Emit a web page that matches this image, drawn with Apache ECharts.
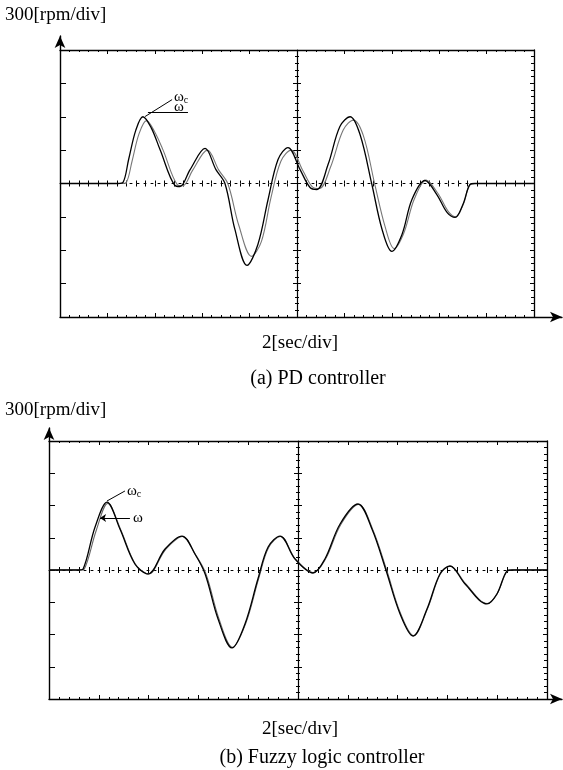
<!DOCTYPE html>
<html>
<head>
<meta charset="utf-8">
<script src="https://cdn.jsdelivr.net/npm/echarts@6/dist/echarts.min.js"></script>
<style>
html,body{margin:0;padding:0;background:#fff;}
#chart{width:563px;height:770px;}
</style>
</head>
<body>
<div id="chart"></div>
<script>
// (a) PD controller : 指令 ωc 与 实际速度 ω  (time in s, speed in rpm)
var pdRefTime = [0, 2.45, 2.66, 2.9, 3.2, 3.5, 3.85, 4.22, 4.85, 5.06, 5.49, 6.12, 6.58, 6.96, 7.38, 7.89, 8.35, 8.78, 9.2, 9.62, 10.13, 10.55, 10.84, 11.31, 11.81, 12.24, 12.66, 13.16, 13.59, 14.0, 14.43, 14.85, 15.4, 15.9, 16.33, 16.67, 17.0, 17.3, 17.5, 20]
var pdRefSpeed = [0, 0, 10, 220, 480, 600, 500, 305, -18, -27, 125, 315, 125, 0, -413, -736, -548, -144, 215, 323, 125, -36, -54, 170, 512, 600, 440, -9, -413, -610, -458, -144, 27, -99, -260, -305, -189, -9, 0, 0]
var pdOutTime = [0, 2.6, 2.8, 3.04, 3.34, 3.65, 3.98, 4.35, 4.95, 5.18, 5.6, 6.22, 6.7, 7.08, 7.55, 8.08, 8.5, 8.9, 9.32, 9.75, 10.25, 10.65, 10.95, 11.42, 11.95, 12.38, 12.8, 13.28, 13.72, 14.1, 14.5, 14.95, 15.45, 15.95, 16.38, 16.7, 17.02, 17.32, 17.52, 20]
var pdOutSpeed = [0, 0, 10, 200, 450, 565, 470, 300, -10, -20, 120, 300, 120, 0, -380, -655, -520, -130, 200, 300, 115, -30, -45, 150, 480, 570, 430, -5, -390, -585, -450, -140, 30, -90, -250, -300, -185, -5, 0, 0]

// (b) Fuzzy logic controller
var fzRefTime = [0, 1.2, 1.37, 1.85, 2.33, 2.85, 3.45, 3.98, 4.66, 5.34, 5.86, 6.27, 6.79, 7.35, 7.87, 8.39, 8.8, 9.28, 9.88, 10.6, 11.08, 11.69, 12.41, 12.97, 13.53, 14.1, 14.62, 15.18, 15.7, 16.1, 16.71, 17.59, 17.99, 18.39, 18.6, 20]
var fzRefSpeed = [0, 0, 10, 400, 632, 381, 56, -37, 195, 316, 149, -37, -456, -725, -502, -84, 214, 316, 102, -28, 102, 428, 614, 381, 0, -409, -614, -363, -37, 37, -130, -316, -223, -10, 0, 0]
var fzOutTime = [0, 1.25, 1.42, 1.9, 2.36, 2.88, 3.48, 4.0, 4.68, 5.36, 5.88, 6.3, 6.82, 7.37, 7.9, 8.42, 8.82, 9.3, 9.9, 10.62, 11.1, 11.72, 12.43, 13.0, 13.56, 14.12, 14.64, 15.2, 15.72, 16.12, 16.73, 17.6, 18.0, 18.4, 18.6, 20]
var fzOutSpeed = [0, 0, 10, 370, 620, 375, 50, -35, 190, 312, 145, -35, -450, -720, -498, -80, 210, 312, 100, -25, 100, 424, 610, 378, 0, -405, -610, -360, -35, 35, -128, -312, -220, -10, 0, 0]

// 刻度: 2 s/div, 300 rpm/div
var timeRange = [0, 20, 2]
var speedRange = [-1200, 1200, 300]

// 标注: 引线 [from, to] 与 文字位置
var pdRefNote = [[3.59, 602], [4.73, 754]]
var pdRefText = [4.81, 780]
var pdOutNote = [[3.71, 638], [5.4, 638]]
var pdOutText = [4.81, 690]
var fzRefNote = [[2.33, 642], [3.05, 735]]
var fzRefText = [3.13, 735]
var fzOutNote = [[3.25, 484], [2.05, 484]]
var fzOutText = [3.37, 484]

var FONT = 'Liberation Serif'
var chart = echarts.init(document.getElementById('chart'))

function zip(t, v) {
  return t.map(function (x, i) { return [x, v[i]] })
}

// 绘图区 和 带箭头的坐标轴区
var boxes = [
  { left: 60, top: 50, width: 474, height: 267 },
  { left: 49, top: 441, width: 498, height: 258 }
]
var arrowBoxes = [
  { left: 60, top: 36, width: 502, height: 281 },
  { left: 49, top: 428, width: 513, height: 271 }
]

var black = { color: '#000', width: 1 }
var xAxes = [], yAxes = []

function tickAxis(base, extra) {
  var ax = Object.assign({
    type: 'value',
    axisLabel: { show: false },
    splitLine: { show: false },
    axisLine: { show: false },
    axisTick: { show: true, inside: true, length: 4, lineStyle: black },
    minorTick: { show: true, splitNumber: 5, length: 2, lineStyle: black }
  }, base, extra)
  ax.axisLine = Object.assign({ onZero: false }, ax.axisLine)
  return ax
}

boxes.forEach(function (box, g) {
  var xb = { gridIndex: g, min: timeRange[0], max: timeRange[1], interval: timeRange[2] }
  var yb = { gridIndex: g, min: speedRange[0], max: speedRange[1], interval: speedRange[2] }
  // x: 底, 顶, 中心线(两侧刻度)
  xAxes.push(tickAxis(xb, { position: 'bottom' }))
  xAxes.push(tickAxis(xb, { position: 'top', axisLine: { show: true, lineStyle: { color: '#000', width: 1.3 } } }))
  xAxes.push(tickAxis(xb, {
    position: 'bottom', offset: -box.height / 2,
    axisLine: { show: true, lineStyle: { color: '#000', width: 1, type: [2, 5] } },
    axisTick: { show: true, inside: true, length: 3, lineStyle: black },
    minorTick: { show: true, splitNumber: 5, length: 3, lineStyle: black }
  }))
  xAxes.push(tickAxis(xb, {
    position: 'bottom', offset: -box.height / 2,
    axisTick: { show: true, inside: false, length: 3, lineStyle: black },
    minorTick: { show: true, splitNumber: 5, length: 3, lineStyle: black }
  }))
  // y: 左, 右, 中心线
  yAxes.push(tickAxis(yb, {
    position: 'left',
    axisTick: { show: true, inside: true, length: 6, lineStyle: black },
    minorTick: { show: false }
  }))
  yAxes.push(tickAxis(yb, { position: 'right', axisLine: { show: true, lineStyle: { color: '#000', width: 1.3 } }, minorTick: { show: true, splitNumber: 5, length: 3, lineStyle: black } }))
  yAxes.push(tickAxis(yb, {
    position: 'left', offset: -box.width / 2,
    axisLine: { show: true, lineStyle: { color: '#000', width: 1.2 } },
    axisTick: { show: true, inside: true, length: 4, lineStyle: black }
  }))
  yAxes.push(tickAxis(yb, {
    position: 'left', offset: -box.width / 2,
    axisTick: { show: true, inside: false, length: 4, lineStyle: black }
  }))
})

// 箭头坐标轴
arrowBoxes.forEach(function (box, g) {
  var arrowLine = { show: true, onZero: false, symbol: ['none', 'arrow'], symbolSize: [8, 12], lineStyle: { color: '#000', width: 1.4 } }
  xAxes.push({ gridIndex: 2 + g, type: 'value', min: 0, max: 1, axisLine: arrowLine, axisTick: { show: false }, axisLabel: { show: false }, splitLine: { show: false } })
  yAxes.push({ gridIndex: 2 + g, type: 'value', min: 0, max: 1, axisLine: arrowLine, axisTick: { show: false }, axisLabel: { show: false }, splitLine: { show: false } })
})

var rich = {
  w: { fontFamily: FONT, fontSize: 15, color: '#000' },
  s: { fontFamily: FONT, fontSize: 10, color: '#000', padding: [7, 0, 0, 0] }
}

// 引线 + 文字
function leader(pts, arrow) {
  return {
    silent: true,
    animation: false,
    symbol: arrow ? ['none', 'arrow'] : ['none', 'none'],
    symbolSize: 6,
    lineStyle: { color: '#000', width: 1, type: 'solid' },
    label: { show: false },
    data: [[{ coord: pts[0] }, { coord: pts[1] }]]
  }
}
function tag(pos, text) {
  return {
    silent: true,
    animation: false,
    symbol: 'circle',
    symbolSize: 0,
    label: { show: true, position: 'right', distance: 0, formatter: text, rich: rich },
    data: [{ coord: pos }]
  }
}

function line(g, t, v, color, width, lead, mark) {
  return {
    type: 'line',
    xAxisIndex: g * 4,
    yAxisIndex: g * 4,
    data: zip(t, v),
    showSymbol: false,
    smooth: 0.35,
    lineStyle: { color: color, width: width },
    markLine: lead,
    markPoint: mark
  }
}

function title(text, left, top, size) {
  return {
    text: text, left: left, top: top, textAlign: left === 5 ? 'left' : 'center', padding: 0,
    textStyle: { fontFamily: FONT, fontSize: size, fontWeight: 'normal', color: '#000' }
  }
}

var option = {
  animation: false,
  backgroundColor: '#fff',
  title: [
    title('300[rpm/div]', 5, 6, 19),
    title('2[sec/div]', 300, 334, 19),
    title('(a) PD controller', 318, 369, 20),
    title('300[rpm/div]', 5, 401, 19),
    title('2[sec/dıv]', 300, 720, 19),
    title('(b) Fuzzy logic controller', 322, 748, 20)
  ],
  grid: boxes.concat(arrowBoxes).map(function (b) {
    return { left: b.left, top: b.top, width: b.width, height: b.height, containLabel: false }
  }),
  xAxis: xAxes,
  yAxis: yAxes,
  series: [
    line(0, pdOutTime, pdOutSpeed, '#777', 1.1, leader(pdOutNote, false), tag(pdOutText, '{w|ω}')),
    line(0, pdRefTime, pdRefSpeed, '#000', 1.3, leader(pdRefNote, false), tag(pdRefText, '{w|ω}{s|c}')),
    line(1, fzOutTime, fzOutSpeed, '#666', 1.1, leader(fzOutNote, true), tag(fzOutText, '{w|ω}')),
    line(1, fzRefTime, fzRefSpeed, '#000', 1.3, leader(fzRefNote, false), tag(fzRefText, '{w|ω}{s|c}'))
  ]
}

chart.setOption(option)
</script>
</body>
</html>
